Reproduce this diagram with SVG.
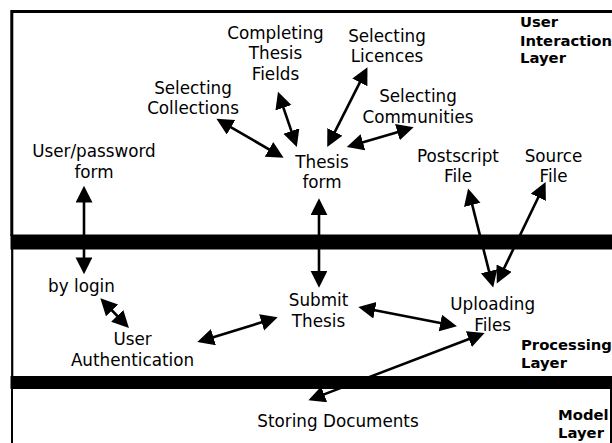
<svg xmlns="http://www.w3.org/2000/svg" width="612" height="443" viewBox="0 0 612 443">
<style>
.t{font-family:"DejaVu Sans","Liberation Sans",sans-serif;font-size:16.8px;fill:#000;text-anchor:middle}
.b{font-family:"DejaVu Sans","Liberation Sans",sans-serif;font-size:14.8px;font-weight:bold;fill:#000}
.c{stroke:#000;stroke-width:2.6;fill:none;marker-start:url(#ah);marker-end:url(#ah)}
.f{stroke:#000;fill:none}
</style>
<defs>
<marker id="ah" markerUnits="userSpaceOnUse" markerWidth="18" markerHeight="18" viewBox="0 0 16 16" refX="7" refY="7.5" orient="auto-start-reverse">
<path d="M0,0 L15,7.5 L0,15 z" fill="#000"/>
</marker>
</defs>
<rect width="612" height="443" fill="#fff"/>
<g id="layers">
<path class="f" stroke-width="3" d="M11.8,236 V11.5 H612"/>
<rect x="10.5" y="234.5" width="602" height="15" fill="#000"/>
<path class="f" stroke-width="2.2" d="M12.2,249 V377"/>
<rect x="10.5" y="376" width="602" height="13" fill="#000"/>
<path class="f" stroke-width="2" d="M12,388 V443 M611,388 V443"/>
<g id="layer-user"><text class="b" x="520" y="27.3">User</text><text class="b" x="520" y="45.5">Interaction</text><text class="b" x="520" y="63.3">Layer</text></g>
<g id="layer-processing"><text class="b" x="521" y="350">Processing</text><text class="b" x="521" y="367.7">Layer</text></g>
<g id="layer-model"><text class="b" x="558" y="420">Model</text><text class="b" x="558" y="438">Layer</text></g>
</g>
<g id="connectors">
<path class="c" d="M84,194.7 L84,265.3"/>
<path class="c" d="M224.2,123.3 L275.8,153.3"/>
<path class="c" d="M280.9,100.3 L293.9,138.4"/>
<path class="c" d="M363.4,75.4 L331.3,138.9"/>
<path class="c" d="M405,129.9 L355.4,144.5"/>
<path class="c" d="M319,207.3 L319,278.7"/>
<path class="c" d="M470.3,197.3 L491,278.9"/>
<path class="c" d="M541.7,190.2 L500.7,275.3"/>
<path class="c" d="M367.2,308.8 L448.1,324.5"/>
<path class="c" d="M205.9,339.4 L269.1,320"/>
<path class="c" d="M106.6,304.8 L122.7,321.5"/>
<path class="c" d="M476.2,336.2 L316.8,397.1"/>
</g>
<g id="completing-thesis-fields"><text class="t" x="275.5" y="38.5">Completing</text><text class="t" x="275.5" y="59">Thesis</text><text class="t" x="275.5" y="79.5">Fields</text></g>
<g id="selecting-collections"><text class="t" x="193" y="94">Selecting</text><text class="t" x="193" y="114">Collections</text></g>
<g id="selecting-licences"><text class="t" x="387" y="41.5">Selecting</text><text class="t" x="387" y="62">Licences</text></g>
<g id="selecting-communities"><text class="t" x="418" y="102.3">Selecting</text><text class="t" x="418" y="122.7">Communities</text></g>
<g id="user-password-form"><text class="t" x="94" y="157">User/password</text><text class="t" x="94" y="177.5">form</text></g>
<g id="thesis-form"><text class="t" x="322" y="167.5">Thesis</text><text class="t" x="322" y="188">form</text></g>
<g id="postscript-file"><text class="t" x="458" y="161.7">Postscript</text><text class="t" x="458" y="182">File</text></g>
<g id="source-file"><text class="t" x="553.5" y="162">Source</text><text class="t" x="553.5" y="182">File</text></g>
<g id="by-login"><text class="t" x="81.5" y="292">by login</text></g>
<g id="user-authentication"><text class="t" x="132.5" y="345">User</text><text class="t" x="132.5" y="365.5">Authentication</text></g>
<g id="submit-thesis"><text class="t" x="318.5" y="306">Submit</text><text class="t" x="318.5" y="326.5">Thesis</text></g>
<g id="uploading-files"><text class="t" x="492.7" y="310">Uploading</text><text class="t" x="492.7" y="330.5">Files</text></g>
<g id="storing-documents"><text class="t" x="338" y="426.5">Storing Documents</text></g>
</svg>
